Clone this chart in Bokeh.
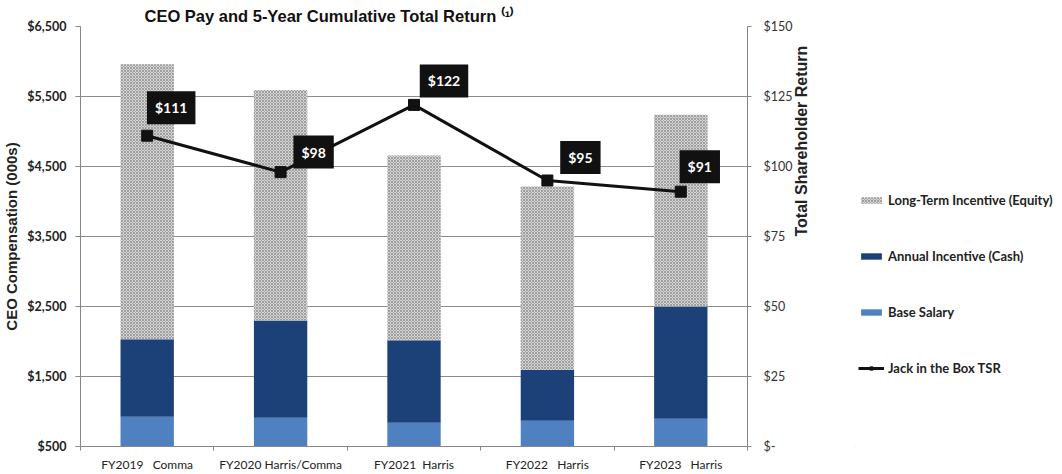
import math
from bokeh.plotting import figure
from bokeh.layouts import row
from bokeh.models import (ColumnDataSource, Range1d, LinearAxis, FixedTicker,
                          Legend, LegendItem, Title)
from bokeh.transform import stack
from bokeh.core.properties import value
from bokeh.embed import file_html
from bokeh.resources import INLINE

# ---------------- data ----------------
categories = ["FY2019\u00a0\u00a0 Comma", "FY2020 Harris/Comma", "FY2021\u00a0 Harris",
              "FY2022\u00a0\u00a0 Harris", "FY2023\u00a0\u00a0 Harris"]
base_salary = [925, 911, 840, 869, 897]
annual_incentive = [1107, 1390, 1178, 723, 1603]
long_term_incentive = [3929, 3291, 2638, 2624, 2738]
tsr = [111, 98, 122, 95, 91]
tsr_labels = ["$111", "$98", "$122", "$95", "$91"]

left_ticks = [500, 1500, 2500, 3500, 4500, 5500, 6500]
left_tick_labels = ["$500", "$1,500", "$2,500", "$3,500", "$4,500", "$5,500", "$6,500"]
right_ticks = [0, 25, 50, 75, 100, 125, 150]
right_tick_labels = ["$-", "$25", "$50", "$75", "$100", "$125", "$150"]

series_names = ["Long-Term Incentive (Equity)", "Annual Incentive (Cash)",
                "Base Salary", "Jack in the Box TSR"]

# label box placement (styling, screen px)
label_dx = [24, 33, 30, 33, 19]
label_dy = [-28, -20, -24, -23, -25]

n = len(categories)
xpos = [i + 0.5 for i in range(n)]

src = ColumnDataSource(dict(x=xpos, cat=categories, base=base_salary,
                            annual=annual_incentive, lti=long_term_incentive,
                            tsr=tsr, lbl=tsr_labels, dx=label_dx, dy=label_dy))

LABEL_FONT = "Lato"
TITLE_FONT = "Liberation Sans"
AXIS_GREY = "#868686"
BASE_C = "#4f81c1"
ANN_C = "#1c4178"
LTI_FILL = "#d4d4d4"
LTI_HATCH = "#929292"
LINE_C = "#111111"

MAIN_W = 855
p = figure(width=MAIN_W, height=474, x_range=Range1d(0, n), y_range=Range1d(500, 6500),
           output_backend="svg", toolbar_location=None,
           min_border_left=75, min_border_right=MAIN_W - 747, min_border_top=26,
           min_border_bottom=25)
p.outline_line_color = None
p.background_fill_color = "white"
p.extra_y_ranges = {"tsr": Range1d(0, 150)}

# title
p.title = Title(text="CEO Pay and 5-Year Cumulative Total Return \u207d\u00b9\u207e",
                align="left", offset=64, standoff=4,
                text_font=TITLE_FONT, text_font_style="bold", text_font_size="16.5px",
                text_color="#111111")

# grid
p.xgrid.visible = False
p.ygrid.ticker = FixedTicker(ticks=left_ticks)
p.ygrid.grid_line_color = "#8c8c8c"
p.ygrid.grid_line_width = 1

bar_style = dict(line_color=None)
lti_style = dict(fill_color=LTI_FILL, line_color=None, hatch_pattern="x",
                 hatch_color=LTI_HATCH, hatch_scale=3, hatch_weight=0.8)

# bars
w = 0.4
p.vbar(x="x", bottom=0, top=stack("base"), width=w, source=src,
       fill_color=BASE_C, **bar_style)
p.vbar(x="x", bottom=stack("base"), top=stack("base", "annual"), width=w, source=src,
       fill_color=ANN_C, **bar_style)
p.vbar(x="x", bottom=stack("base", "annual"), top=stack("base", "annual", "lti"),
       width=w, source=src, **lti_style)

# TSR line
p.line(x="x", y="tsr", source=src, y_range_name="tsr", line_color=LINE_C, line_width=3)
p.scatter(x="x", y="tsr", source=src, y_range_name="tsr", marker="square",
          size=11, fill_color=LINE_C, line_color=LINE_C)
p.text(x="x", y="tsr", text="lbl", source=src, y_range_name="tsr",
       x_offset="dx", y_offset="dy", text_align="center", text_baseline="middle",
       text_color="white", text_font=value(LABEL_FONT), text_font_style="bold",
       text_font_size="14px", background_fill_color="#111111", padding=8)

# x axis
xa = p.xaxis[0]
xa.ticker = FixedTicker(ticks=xpos, minor_ticks=list(range(n + 1)))
xa.major_label_overrides = {x: c for x, c in zip(xpos, categories)}
xa.major_tick_out = 0
xa.major_tick_in = 0
xa.minor_tick_out = 4
xa.minor_tick_in = 0
xa.minor_tick_line_color = AXIS_GREY
xa.axis_line_color = AXIS_GREY
xa.major_label_standoff = 6
xa.major_label_text_font = LABEL_FONT
xa.major_label_text_font_size = "12px"
xa.major_label_text_color = "#222222"

# left axis
ya = p.yaxis[0]
ya.ticker = FixedTicker(ticks=left_ticks)
ya.major_label_overrides = {t: l for t, l in zip(left_ticks, left_tick_labels)}
ya.minor_tick_out = 0
ya.minor_tick_in = 0
ya.major_tick_in = 0
ya.major_tick_out = 5
ya.major_tick_line_color = AXIS_GREY
ya.axis_line_color = AXIS_GREY
ya.major_label_standoff = 9
ya.major_label_text_font = LABEL_FONT
ya.major_label_text_font_style = "bold"
ya.major_label_text_font_size = "12.5px"
ya.major_label_text_color = "#222222"
ya.axis_label = "CEO Compensation (000s)"
ya.axis_label_text_font = TITLE_FONT
ya.axis_label_text_font_style = "bold"
ya.axis_label_text_font_size = "15px"
ya.axis_label_text_color = "#222222"
ya.axis_label_standoff = 4

# right axis
ra = LinearAxis(y_range_name="tsr", ticker=FixedTicker(ticks=right_ticks),
                major_label_overrides={t: l for t, l in zip(right_ticks, right_tick_labels)})
ra.minor_tick_out = 0
ra.minor_tick_in = 0
ra.major_tick_in = 0
ra.major_tick_out = 4
ra.major_tick_line_color = AXIS_GREY
ra.axis_line_color = AXIS_GREY
ra.major_label_standoff = 12
ra.major_label_text_font = LABEL_FONT
ra.major_label_text_font_size = "12.5px"
ra.major_label_text_color = "#333333"
ra.axis_label = "Total Shareholder Return"
ra.axis_label_text_font = TITLE_FONT
ra.axis_label_text_font_style = "bold"
ra.axis_label_text_font_size = "16px"
ra.axis_label_text_color = "#222222"
ra.axis_label_standoff = 6
try:
    ra.axis_label_orientation = math.pi / 2
except Exception:
    pass
p.add_layout(ra, "right")

# ---------------- legend panel ----------------
LEG_W = 1062 - MAIN_W
lp = figure(width=LEG_W, height=474, x_range=Range1d(0, 1), y_range=Range1d(0, 1),
            output_backend="svg", toolbar_location=None, x_axis_type=None, y_axis_type=None,
            min_border=0)
lp.outline_line_color = None
lp.grid.visible = False
# legend swatch proxies: one point each, placed outside the visible range
off = [-5]
lg_lti = lp.vbar(x=off, top=off, width=0.1, **lti_style)
lg_ann = lp.vbar(x=off, top=off, width=0.1, fill_color=ANN_C, **bar_style)
lg_base = lp.vbar(x=off, top=off, width=0.1, fill_color=BASE_C, **bar_style)
lg_line = lp.line(x=off, y=off, line_color=LINE_C, line_width=3)
lg_pts = lp.scatter(x=off, y=off, marker="square", size=10, fill_color=LINE_C, line_color=LINE_C)

legend = Legend(items=[
    LegendItem(label=series_names[0], renderers=[lg_lti]),
    LegendItem(label=series_names[1], renderers=[lg_ann]),
    LegendItem(label=series_names[2], renderers=[lg_base]),
    LegendItem(label=series_names[3], renderers=[lg_line, lg_pts]),
], location=(3, 70))
legend.glyph_width = 26
legend.glyph_height = 8
legend.label_height = 16
legend.spacing = 40
legend.label_standoff = 4
legend.padding = 0
legend.margin = 0
legend.border_line_color = None
legend.background_fill_alpha = 0
legend.label_text_font = LABEL_FONT
legend.label_text_font_style = "bold"
legend.label_text_font_size = "13px"
legend.label_text_color = "#222222"
lp.add_layout(legend, "center")

layout = row(p, lp)
open("out.html", "w").write(file_html(layout, INLINE))
